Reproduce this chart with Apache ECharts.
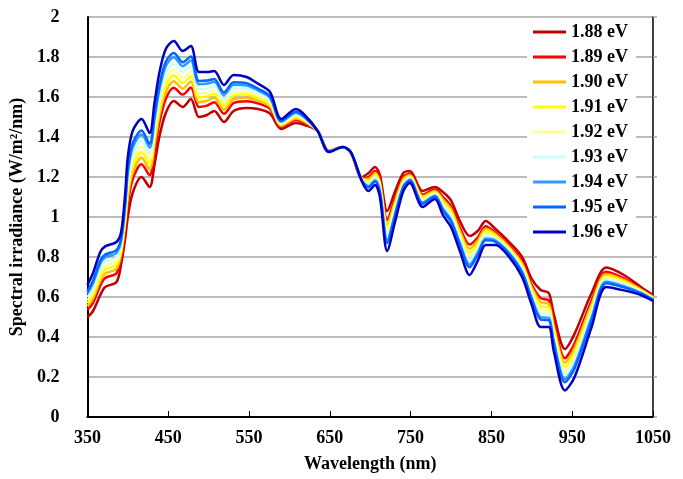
<!DOCTYPE html>
<html>
<head>
<meta charset="utf-8">
<script src="https://cdn.jsdelivr.net/npm/echarts@6/dist/echarts.min.js"></script>
<style>
  html, body { margin: 0; padding: 0; background: #fff; }
  #chart { width: 683px; height: 479px; }
</style>
</head>
<body>
<div id="chart"></div>
<script>
// wavelength (nm)
var wavelength = [350, 357, 366, 372, 386, 392, 397, 400, 406, 417, 427, 433, 439, 447, 457, 468, 478, 488, 498, 507,
  519, 531, 547, 561, 576, 590, 608, 619, 635, 649, 666, 676, 690, 698, 706, 712, 721, 731, 741, 749,
  765, 780, 790, 800, 811, 823, 833, 843, 855, 872, 888, 900, 911, 921, 927, 941, 953, 974, 992, 1014, 1035, 1050];

// spectral irradiance (W/m2/nm), one array per band gap
var s188 = [0.50, 0.53, 0.61, 0.65, 0.675, 0.77, 0.90, 1.00, 1.12, 1.20, 1.15, 1.26, 1.40, 1.52, 1.58, 1.55, 1.59, 1.50, 1.51, 1.53,
  1.475, 1.53, 1.545, 1.54, 1.517, 1.44, 1.47, 1.46, 1.43, 1.33, 1.35, 1.32, 1.20, 1.22, 1.25, 1.21, 1.03, 1.13, 1.22, 1.23,
  1.13, 1.15, 1.125, 1.083, 0.98, 0.905, 0.93, 0.98, 0.94, 0.875, 0.80, 0.69, 0.635, 0.62, 0.517, 0.34, 0.417, 0.62, 0.747, 0.71, 0.65, 0.61];
var s189 = [0.535, 0.572, 0.657, 0.695, 0.719, 0.805, 0.951, 1.066, 1.188, 1.264, 1.209, 1.328, 1.47, 1.59, 1.646, 1.612, 1.648, 1.55, 1.557, 1.574,
  1.516, 1.57, 1.579, 1.568, 1.541, 1.451, 1.485, 1.471, 1.43, 1.329, 1.35, 1.321, 1.194, 1.20, 1.23, 1.186, 0.986, 1.097, 1.20, 1.217,
  1.112, 1.137, 1.10, 1.054, 0.947, 0.862, 0.897, 0.954, 0.922, 0.858, 0.778, 0.661, 0.594, 0.583, 0.477, 0.294, 0.369, 0.583, 0.726, 0.693, 0.641, 0.603];
var s190 = [0.553, 0.593, 0.681, 0.717, 0.741, 0.823, 0.976, 1.099, 1.222, 1.296, 1.239, 1.362, 1.506, 1.626, 1.679, 1.642, 1.677, 1.574, 1.581, 1.596,
  1.536, 1.589, 1.596, 1.582, 1.553, 1.457, 1.493, 1.477, 1.43, 1.328, 1.35, 1.322, 1.192, 1.19, 1.22, 1.174, 0.964, 1.08, 1.19, 1.21,
  1.104, 1.13, 1.087, 1.039, 0.93, 0.841, 0.88, 0.94, 0.914, 0.85, 0.767, 0.647, 0.574, 0.564, 0.456, 0.272, 0.345, 0.564, 0.715, 0.685, 0.637, 0.60];
var s191 = [0.569, 0.612, 0.702, 0.737, 0.761, 0.839, 0.999, 1.129, 1.253, 1.325, 1.266, 1.393, 1.538, 1.658, 1.709, 1.67, 1.704, 1.597, 1.602, 1.616,
  1.555, 1.607, 1.612, 1.595, 1.563, 1.462, 1.50, 1.482, 1.43, 1.328, 1.35, 1.322, 1.189, 1.181, 1.211, 1.163, 0.944, 1.065, 1.181, 1.204,
  1.096, 1.124, 1.076, 1.026, 0.915, 0.821, 0.865, 0.928, 0.906, 0.843, 0.757, 0.634, 0.555, 0.547, 0.438, 0.251, 0.324, 0.547, 0.705, 0.677, 0.633, 0.597];
var s192 = [0.583, 0.629, 0.722, 0.756, 0.779, 0.853, 1.02, 1.156, 1.281, 1.351, 1.29, 1.421, 1.566, 1.686, 1.736, 1.696, 1.728, 1.617, 1.622, 1.634,
  1.571, 1.624, 1.626, 1.606, 1.573, 1.466, 1.506, 1.486, 1.43, 1.327, 1.35, 1.322, 1.187, 1.173, 1.203, 1.153, 0.926, 1.052, 1.173, 1.199,
  1.088, 1.119, 1.065, 1.014, 0.902, 0.804, 0.852, 0.918, 0.898, 0.836, 0.748, 0.622, 0.539, 0.532, 0.421, 0.232, 0.304, 0.532, 0.697, 0.67, 0.629, 0.594];
var s193 = [0.599, 0.648, 0.743, 0.776, 0.799, 0.869, 1.043, 1.186, 1.312, 1.38, 1.317, 1.452, 1.598, 1.718, 1.766, 1.724, 1.754, 1.64, 1.643, 1.654,
  1.59, 1.642, 1.641, 1.619, 1.584, 1.471, 1.513, 1.491, 1.43, 1.327, 1.35, 1.323, 1.185, 1.164, 1.194, 1.142, 0.906, 1.037, 1.164, 1.193,
  1.08, 1.113, 1.054, 1.001, 0.887, 0.784, 0.837, 0.906, 0.89, 0.828, 0.738, 0.609, 0.52, 0.515, 0.403, 0.212, 0.282, 0.515, 0.687, 0.662, 0.625, 0.591];
var s194 = [0.617, 0.669, 0.767, 0.798, 0.821, 0.887, 1.068, 1.219, 1.346, 1.412, 1.347, 1.486, 1.634, 1.754, 1.799, 1.754, 1.783, 1.664, 1.667, 1.676,
  1.61, 1.661, 1.658, 1.633, 1.596, 1.477, 1.521, 1.497, 1.43, 1.326, 1.35, 1.324, 1.182, 1.154, 1.184, 1.13, 0.884, 1.02, 1.154, 1.186,
  1.072, 1.106, 1.041, 0.986, 0.87, 0.763, 0.82, 0.892, 0.882, 0.82, 0.727, 0.595, 0.50, 0.496, 0.383, 0.189, 0.259, 0.496, 0.676, 0.654, 0.621, 0.588];
var s195 = [0.628, 0.682, 0.782, 0.812, 0.835, 0.898, 1.084, 1.24, 1.368, 1.432, 1.366, 1.508, 1.656, 1.776, 1.82, 1.774, 1.802, 1.68, 1.682, 1.69,
  1.623, 1.674, 1.669, 1.642, 1.603, 1.48, 1.526, 1.50, 1.43, 1.326, 1.35, 1.324, 1.18, 1.148, 1.178, 1.122, 0.87, 1.01, 1.148, 1.182,
  1.066, 1.102, 1.033, 0.977, 0.86, 0.749, 0.81, 0.884, 0.876, 0.815, 0.72, 0.586, 0.487, 0.484, 0.37, 0.174, 0.243, 0.484, 0.669, 0.648, 0.618, 0.586];
var s196 = [0.66, 0.72, 0.825, 0.853, 0.875, 0.93, 1.13, 1.30, 1.43, 1.49, 1.42, 1.57, 1.72, 1.84, 1.88, 1.83, 1.855, 1.725, 1.725, 1.73,
  1.66, 1.71, 1.70, 1.667, 1.625, 1.49, 1.54, 1.51, 1.43, 1.325, 1.35, 1.325, 1.175, 1.13, 1.16, 1.10, 0.83, 0.98, 1.13, 1.17,
  1.05, 1.09, 1.01, 0.95, 0.83, 0.71, 0.78, 0.86, 0.86, 0.80, 0.70, 0.56, 0.45, 0.45, 0.333, 0.133, 0.20, 0.45, 0.65, 0.633, 0.61, 0.58];

var seriesNames = ['1.88 eV', '1.89 eV', '1.90 eV', '1.91 eV', '1.92 eV', '1.93 eV', '1.94 eV', '1.95 eV', '1.96 eV'];
var seriesData = [s188, s189, s190, s191, s192, s193, s194, s195, s196];
var seriesColors = ['#C00000', '#FF0000', '#FFC000', '#FFFF00', '#FFFF99', '#CCFFFF', '#3399FF', '#0066FF', '#0000C0'];

var fontFam = '"Liberation Serif", "Times New Roman", serif';

var chart = echarts.init(document.getElementById('chart'));

var series = seriesData.map(function (vals, i) {
  return {
    name: seriesNames[i],
    type: 'line',
    data: vals.map(function (v, j) { return [wavelength[j], v]; }),
    smooth: 0.3,
    showSymbol: false,
    symbol: 'none',
    color: seriesColors[i],
    lineStyle: { width: 2.5, color: seriesColors[i] },
    animation: false,
    z: 2 + i
  };
});

chart.setOption({
  animation: false,
  backgroundColor: '#fff',
  grid: { left: 80, right: 30, top: 17, bottom: 62 },
  legend: {
    orient: 'vertical',
    left: 527,
    top: 20,
    padding: [2, 8, 2, 6],
    backgroundColor: '#fff',
    itemWidth: 33,
    itemHeight: 3,
    itemGap: 5,
    icon: 'rect',
    data: seriesNames,
    textStyle: { fontFamily: fontFam, fontWeight: 'bold', fontSize: 18, color: '#000', lineHeight: 20 }
  },
  xAxis: {
    type: 'value',
    min: 350,
    max: 1050,
    interval: 100,
    name: 'Wavelength (nm)',
    nameLocation: 'middle',
    nameGap: 38,
    nameTextStyle: { fontFamily: fontFam, fontWeight: 'bold', fontSize: 18, color: '#000' },
    axisLine: { show: true, lineStyle: { color: '#000', width: 2 } },
    axisTick: { show: true, inside: true, length: 6, lineStyle: { color: '#000', width: 1 } },
    axisLabel: {
      fontFamily: fontFam, fontWeight: 'bold', fontSize: 18, color: '#000', margin: 12,
      formatter: function (v) { return String(v); }
    },
    splitLine: { show: false }
  },
  yAxis: [{
    type: 'value',
    min: 0,
    max: 2,
    interval: 0.2,
    name: 'Spectral irradiance (W/m\u00B2/nm)',
    nameLocation: 'middle',
    nameGap: 56,
    nameTextStyle: { fontFamily: fontFam, fontWeight: 'bold', fontSize: 18, color: '#000' },
    axisLine: { show: true, lineStyle: { color: '#000', width: 2 } },
    axisTick: { show: false },
    axisLabel: { fontFamily: fontFam, fontWeight: 'bold', fontSize: 18, color: '#000', margin: 28 },
    splitLine: { show: true, lineStyle: { color: '#A6A6A6', width: 1.5 } }
  }, {
    type: 'value',
    position: 'right',
    min: 0,
    max: 2,
    interval: 0.2,
    axisLine: { show: true, lineStyle: { color: '#000', width: 1.5 } },
    axisTick: { show: true, length: 4, lineStyle: { color: '#A6A6A6', width: 1.5 } },
    axisLabel: { show: false },
    splitLine: { show: false }
  }],
  series: series
});
</script>
</body>
</html>
